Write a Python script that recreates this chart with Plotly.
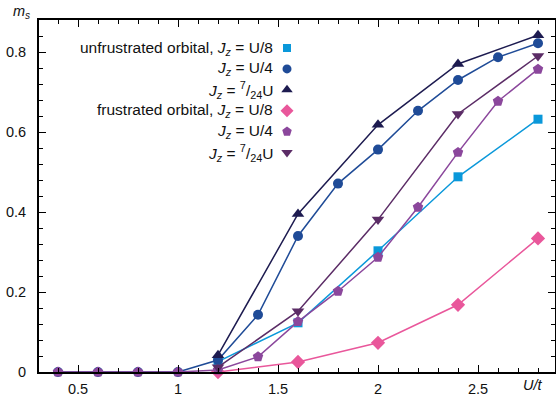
import plotly.graph_objects as go

# ---------------- data ----------------
x_uf_u8 = [1.2, 1.6, 2.0, 2.4, 2.8]
y_uf_u8 = [0.026, 0.123, 0.303, 0.488, 0.632]

x_uf_u4 = [0.4, 0.6, 0.8, 1.0, 1.2, 1.4, 1.6, 1.8, 2.0, 2.2, 2.4, 2.6, 2.8]
y_uf_u4 = [0.0, 0.0, 0.0, 0.0, 0.03, 0.143, 0.34, 0.471, 0.556, 0.653, 0.73, 0.787, 0.822]

x_uf_724 = [1.2, 1.6, 2.0, 2.4, 2.8]
y_uf_724 = [0.042, 0.395, 0.618, 0.77, 0.842]

x_f_u8 = [1.2, 1.6, 2.0, 2.4, 2.8]
y_f_u8 = [0.0, 0.025, 0.073, 0.168, 0.334]

x_f_u4 = [0.4, 0.6, 0.8, 1.0, 1.2, 1.4, 1.6, 1.8, 2.0, 2.2, 2.4, 2.6, 2.8]
y_f_u4 = [0.0, 0.0, 0.0, 0.0, 0.005, 0.038, 0.126, 0.202, 0.287, 0.412, 0.549, 0.677, 0.757]

x_f_724 = [1.2, 1.6, 2.0, 2.4, 2.8]
y_f_724 = [0.012, 0.152, 0.381, 0.645, 0.79]

x_tickvals = [0.5, 1.0, 1.5, 2.0, 2.5]
x_ticktext = ["0.5", "1", "1.5", "2", "2.5"]
y_tickvals = [0.0, 0.2, 0.4, 0.6, 0.8]
y_ticktext = ["0", "0.2", "0.4", "0.6", "0.8"]

legend_labels = [
    "unfrustrated orbital, <i>J<sub>z</sub></i> = U/8",
    "<i>J<sub>z</sub></i> = U/4",
    "<i>J<sub>z</sub></i> = <sup>7</sup>/<sub>24</sub>U",
    "frustrated orbital, <i>J<sub>z</sub></i> = U/8",
    "<i>J<sub>z</sub></i> = U/4",
    "<i>J<sub>z</sub></i> = <sup>7</sup>/<sub>24</sub>U",
]

# ---------------- styles ----------------
FONT = "Liberation Sans, Arial, sans-serif"
series = [
    (x_uf_u8, y_uf_u8, "#0a98da", "square", 9),
    (x_uf_u4, y_uf_u4, "#1f4b97", "circle", 10),
    (x_uf_724, y_uf_724, "#1d1b50", "triangle-up", 11),
    (x_f_u8, y_f_u8, "#e9579b", "diamond", 11),
    (x_f_u4, y_f_u4, "#8b479c", "pentagon", 11),
    (x_f_724, y_f_724, "#5b2c66", "triangle-down", 11),
]

W, H = 556, 395
L, R, T, B = 39, 555, 20, 372
XR = [0.305, 2.885]
YR = [0.0, 0.88]


def px_to_xdata(px):
    return XR[0] + (px - L) / (R - L) * (XR[1] - XR[0])


def py_to_ydata(py):
    return YR[0] + (B - py) / (B - T) * (YR[1] - YR[0])


def px_to_paper(px):
    return (px - L) / (R - L)


def py_to_paper(py):
    return (B - py) / (B - T)


fig = go.Figure()
for (xs, ys, col, sym, sz), lab in zip(series, legend_labels):
    fig.add_trace(go.Scatter(
        x=xs, y=ys, mode="lines+markers",
        line=dict(color=col, width=1.5),
        marker=dict(symbol=sym, size=sz, color=col, line=dict(width=0)),
        cliponaxis=False, showlegend=False, name=lab,
    ))

# custom legend: right-aligned text, key symbol on the right
leg_text_right = 275
leg_key_x = 287
leg_row0 = 48
leg_step = 20.9
key_sizes = [8, 9, 10, 10, 10, 10]
for i, ((xs, ys, col, sym, sz), lab) in enumerate(zip(series, legend_labels)):
    yy = leg_row0 + i * leg_step
    fig.add_trace(go.Scatter(
        x=[px_to_xdata(leg_key_x)], y=[py_to_ydata(yy)], mode="markers",
        marker=dict(symbol=sym, size=key_sizes[i], color=col, line=dict(width=0)),
        showlegend=False, hoverinfo="skip",
    ))
    fig.add_annotation(
        x=px_to_paper(leg_text_right), y=py_to_paper(yy), xref="paper", yref="paper",
        text=lab, showarrow=False, xanchor="right", yanchor="middle",
        font=dict(family=FONT, size=15.5, color="#111"),
    )

# axis titles
fig.add_annotation(x=px_to_paper(21), y=py_to_paper(12), xref="paper", yref="paper",
                   text="<i>m<sub>s</sub></i>", showarrow=False,
                   xanchor="center", yanchor="middle",
                   font=dict(family=FONT, size=14.5, color="#111"))
fig.add_annotation(x=px_to_paper(533), y=py_to_paper(385), xref="paper", yref="paper",
                   text="<i>U/t</i>", showarrow=False,
                   xanchor="center", yanchor="middle",
                   font=dict(family=FONT, size=14.5, color="#111"))

fig.update_layout(
    template="none",
    width=W, height=H,
    margin=dict(l=L, r=W - R, t=T, b=H - B, pad=0),
    paper_bgcolor="white", plot_bgcolor="white",
    font=dict(family=FONT, size=14.5, color="#111"),
    showlegend=False,
    xaxis=dict(
        range=XR, tickvals=x_tickvals, ticktext=x_ticktext, automargin=False,
        ticks="inside", ticklen=7, tickwidth=1.2, tickcolor="black",
        minor=dict(dtick=0.1, tick0=0, ticks="inside", ticklen=4, tickwidth=1,
                   tickcolor="black", showgrid=False),
        showline=True, linewidth=2, linecolor="black", mirror="ticks",
        showgrid=False, zeroline=False, ticklabelstandoff=3,
        tickfont=dict(family=FONT, size=14.5, color="#111"),
    ),
    yaxis=dict(
        range=YR, tickvals=y_tickvals, ticktext=y_ticktext, automargin=False,
        ticks="inside", ticklen=7, tickwidth=1.2, tickcolor="black",
        minor=dict(dtick=0.04, tick0=0, ticks="inside", ticklen=4, tickwidth=1,
                   tickcolor="black", showgrid=False),
        showline=True, linewidth=2, linecolor="black", mirror="ticks",
        showgrid=False, zeroline=False, ticklabelstandoff=8,
        tickfont=dict(family=FONT, size=14.5, color="#111"),
    ),
)

fig.write_html(
    "out.html",
    config={"displayModeBar": False},
    post_script="document.body.style.margin='0';document.body.style.overflow='hidden';",
)
